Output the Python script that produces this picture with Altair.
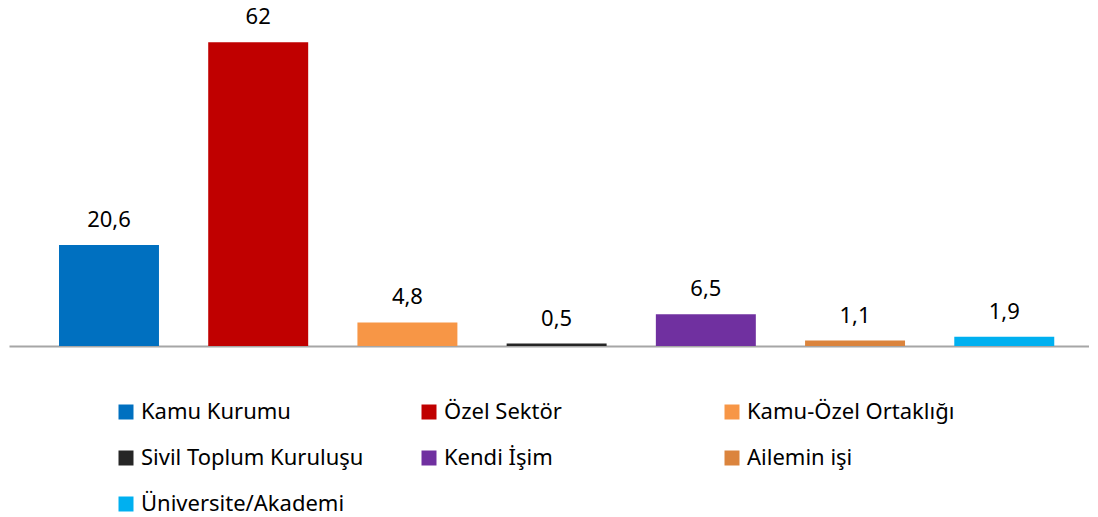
import altair as alt
import pandas as pd

categories = ["Kamu Kurumu", "Özel Sektör", "Kamu-Özel Ortaklığı",
              "Sivil Toplum Kuruluşu", "Kendi İşim", "Ailemin işi",
              "Üniversite/Akademi"]
values = [20.6, 62, 4.8, 0.5, 6.5, 1.1, 1.9]
colors = ["#0070C0", "#C00000", "#F79646", "#262626", "#7030A0", "#DB843D", "#00B0F0"]

df = pd.DataFrame({"cat": categories, "val": values})

FONT = "Noto Sans"

x = alt.X("cat:N", sort=categories, title=None,
          scale=alt.Scale(paddingInner=0.33, paddingOuter=0.284, align=0.59),
          axis=alt.Axis(labels=False, ticks=False, domainColor="#A6A6A6",
                        domainWidth=2, grid=False))
y = alt.Y("val:Q", title=None, scale=alt.Scale(domain=[0, 69], nice=False),
          axis=None)

bars = alt.Chart(df).mark_bar().encode(
    x=x, y=y,
    color=alt.Color("cat:N", sort=categories,
                    scale=alt.Scale(domain=categories, range=colors),
                    legend=alt.Legend(title=None, orient="none", legendX=106, legendY=393,
                                      direction="horizontal",
                                      columns=3, gridAlign="all", columnPadding=54,
                                      rowPadding=24, symbolType="square", symbolSize=225,
                                      symbolStrokeWidth=0, labelFont=FONT, labelFontSize=22,
                                      labelColor="#000000", labelOffset=4, labelLimit=400,
                                      symbolOpacity=1))
)

text = alt.Chart(df).transform_calculate(
    lbl="replace(toString(datum.val), '.', ',')"
).mark_text(font=FONT, fontSize=22, baseline="middle", dy=-25, color="#000000").encode(
    x=alt.X("cat:N", sort=categories), y=alt.Y("val:Q"), text="lbl:N")

chart = alt.layer(bars, text).properties(
    width=1080, height=338,
    padding={"left": 1, "top": 0, "right": 0, "bottom": 170},
    autosize=alt.AutoSizeParams(type="none")
).configure_view(stroke=None)

chart.save("out.html", embed_options={"renderer": "svg", "actions": False})
